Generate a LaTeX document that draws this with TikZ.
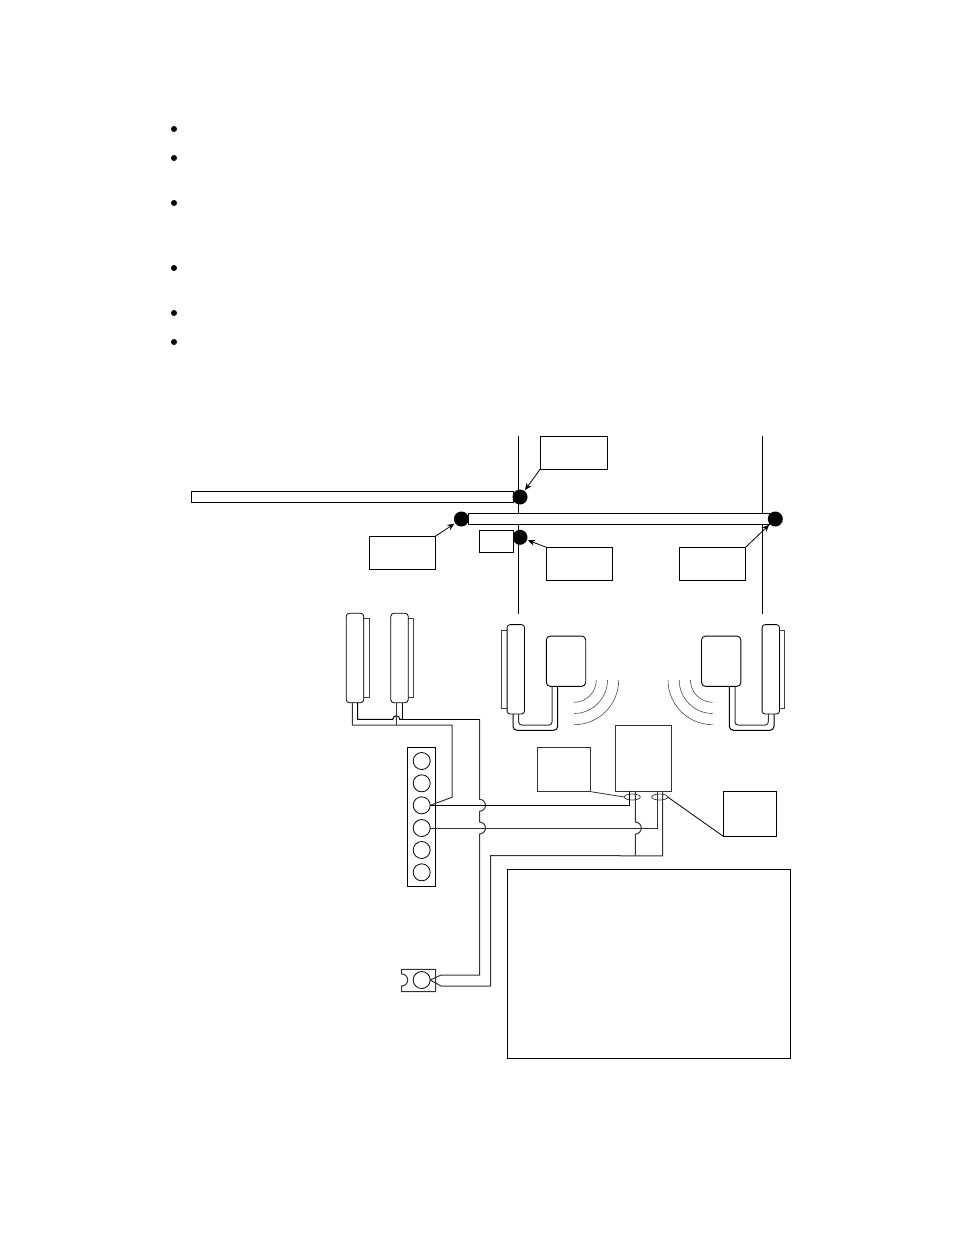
\documentclass[tikz,border=0pt]{standalone}
\usepackage{xcolor}
\usetikzlibrary{shapes.geometric}
\usetikzlibrary{arrows.meta}
\tikzset{
  box/.style={draw,fill=white,inner sep=0,outer sep=0,line width=.9pt},
  gbox/.style={box,draw=black!80},
  dot/.style={circle,fill=black,inner sep=0,outer sep=0,minimum size=15pt},
  bulletdot/.style={circle,fill=black,inner sep=0,minimum size=6pt},
  term/.style={circle,draw,fill=white,inner sep=0,outer sep=0,minimum size=17pt,line width=.8pt},
  handset/.style={draw,fill=white,rounded corners=3pt,inner sep=0,outer sep=0,minimum width=17.4pt,minimum height=89.4pt,line width=.8pt},
  backing/.style={draw=black!75,fill=white,inner sep=0,outer sep=0,minimum width=5.6pt,minimum height=78.6pt,line width=1pt},
  base/.style={draw,fill=white,rounded corners=4pt,inner sep=0,outer sep=0,minimum width=39.4pt,minimum height=50.3pt,line width=.9pt},
  clip ring/.style={draw=black!80,ellipse,inner sep=0,outer sep=0,line width=.7pt,minimum width=16pt,minimum height=6pt},
  wire/.style={line width=1pt},
  gwire/.style={line width=1pt,draw=black!80},
  pointer/.style={-{Stealth[length=7pt,width=6pt]},line width=.8pt,shorten >=1pt},
  wave/.style={line width=.6pt,draw=black!70}
}
\begin{document}
\begin{tikzpicture}[x=1pt,y=-1pt]
  \useasboundingbox (0,0) rectangle (954,1235);
  \fill[white] (0,0) rectangle (954,1235);

  \foreach \y [count=\i] in {129,158,203,268,313,342}
    \node (bul\i) [bulletdot] at (174,\y) {};

  % the two posts and the beams
  \coordinate (pal) at (518.4,435.7);
  \coordinate (pah) at (518.4,614);
  \coordinate (pbl) at (762.8,435.7);
  \coordinate (pbh) at (762.8,614);
  \draw[wire,line width=.8pt] (pal) -- (pah);
  \draw[wire,line width=.8pt] (pbl) -- (pbh);
  \node (beamw) [box,minimum width=322pt,minimum height=11.4pt] at (352,497) {};
  \node (beame) [box,minimum width=301pt,minimum height=11.4pt] at (618.5,519) {};
  \node (dotn) [dot] at (520,497) {};
  \node (dotw) [dot] at (461.4,519) {};
  \node (dots) [dot] at (520,537.3) {};
  \node (dote) [dot] at (775.3,519) {};

  \node (lbln) [box,minimum width=67.5pt,minimum height=33pt] at (573.8,452.8) {};
  \node (lblw) [box,minimum width=66.3pt,minimum height=33pt] at (402.2,552.8) {};
  \node (lbls) [box,minimum width=34.6pt,minimum height=22pt] at (496.3,541.3) {};
  \node (lblm) [box,minimum width=66.1pt,minimum height=33pt] at (579.5,563.8) {};
  \node (lble) [box,minimum width=66.1pt,minimum height=33pt] at (712.5,563.8) {};
  \draw[pointer] (lbln.south west) -- (dotn);
  \draw[pointer] (lblw.north east) -- (dotw);
  \draw[pointer] (lblm.north west) -- (dots);
  \draw[pointer] (lble.north east) -- (dote);

  % telephones
  \node (bka) [backing] at (366.5,658.2) {};
  \node (bkb) [backing] at (410.7,658.2) {};
  \node (bkc) [backing] at (504.5,669.3) {};
  \node (bkd) [backing] at (782,669.3) {};
  \node (hsa) [handset] at (355,658) {};
  \node (hsb) [handset] at (399.5,658) {};
  \node (hsc) [handset] at (515.8,669.3) {};
  \node (hsd) [handset] at (770.8,669.3) {};
  \node (bsc) [base] at (566,661.2) {};
  \node (bsd) [base] at (721.2,661.2) {};

  \path (hsa.south) +(-2.7,0) coordinate (hsal);
  \path (hsa.south) +(2.5,0) coordinate (hsar);
  \path (hsb.south) +(-3.2,0) coordinate (hsbl);
  \path (hsb.south) +(2.5,0) coordinate (hsbr);
  \path (hsc.south) +(-2.8,0) coordinate (hscl);
  \path (hsc.south) +(2.9,0) coordinate (hscr);
  \path (bsc.south) +(-14,0) coordinate (bscl);
  \path (bsc.south) +(-8.3,0) coordinate (bscr);
  \path (hsd.south) +(-2.5,0) coordinate (hsdl);
  \path (hsd.south) +(3.2,0) coordinate (hsdr);
  \path (bsd.south) +(8.1,0) coordinate (bsdl);
  \path (bsd.south) +(13.8,0) coordinate (bsdr);

  \draw[wire,rounded corners=4pt] (hscl) -- ++(0,16.3) -| (bscr);
  \draw[gwire,rounded corners=3pt] (hscr) -- ++(0,11) -| (bscl);
  \draw[wire,rounded corners=4pt] (hsdr) -- ++(0,16.3) -| (bsdl);
  \draw[gwire,rounded corners=3pt] (hsdl) -- ++(0,11) -| (bsdr);

  \foreach \r in {22.3,33.5,44.7} {
    \draw[wave] (574,680+\r) arc [start angle=-90,end angle=0,radius=\r pt];
    \draw[wave] (712.7,680+\r) arc [start angle=-90,end angle=-180,radius=\r pt];
  }

  % terminal block and boxes
  \node (block) [box,minimum width=27.6pt,minimum height=138.7pt] at (421.5,816.6) {};
  \foreach \y [count=\i] in {761,783.3,805.3,828,850,872.3}
    \node (t\i) [term] at (421.7,\y) {};
  \node (amp) [gbox,minimum width=56pt,minimum height=66.3pt] at (643.7,758.2) {};
  \node (lbla) [gbox,minimum width=53pt,minimum height=44.7pt] at (564.2,769.3) {};
  \node (lblb) [box,minimum width=53.4pt,minimum height=45pt] at (750,813.8) {};
  \node (note) [box,minimum width=283.2pt,minimum height=189pt] at (648.9,963.8) {};

  \path (amp.south) +(-14,0) coordinate (ampa);
  \path (amp.south) +(-8.4,0) coordinate (ampb);
  \path (amp.south) +(13.6,0) coordinate (ampc);
  \path (amp.south) +(19,0) coordinate (ampd);
  \node (clpa) [clip ring] at (632.3,797) {};
  \node (clpb) [clip ring] at (659.7,797) {};
  \draw[gwire,line width=.8pt] (lbla.south east) -- (clpa.west);
  \draw[wire,line width=.8pt] (lblb.south west) -- (clpb.east);

  % plug
  \draw[gwire] (401.7,986) arc [start angle=-90,end angle=90,radius=6pt]
    -- (401.7,969.3) -- (435.7,969.3) -- (435.7,991.7) -- (401.7,991.7) -- cycle;
  \node (jack) [term] at (421.7,980) {};

  % wiring
  \draw[wire] (hsar) -- ++(0,16.6) -- (392.8,719.3)
    arc [start angle=180,end angle=0,radius=3.5pt] -- (402,719.3);
  \draw[wire] (hsbr) -- (402,719.3);
  \draw[wire] (402,719.3) -- (479.5,719.3);
  \draw[gwire] (479.5,719.3) -- (479.5,799.3)
    arc [start angle=90,end angle=-90,radius=6pt] -- (479.5,822)
    arc [start angle=90,end angle=-90,radius=6pt] -- (479.5,975)
    -- (441,975) -- (jack.east);
  \draw[gwire] (hsal) -- ++(0,22.3) -- (452,725) -- (452,797.3) -- (t3.east);
  \draw[gwire] (hsbl) -- ++(0,22.3);
  \draw[wire] (t3.east) -| (ampa);
  \draw[gwire] (t4.east) -| (ampc);
  \draw[gwire] (ampb) -- ++(0,30.7)
    arc [start angle=90,end angle=-90,radius=6pt] -- (635.3,855.7);
  \draw[gwire] (ampd) -- ++(0,64.4) -- (490.7,855.7) -- (490.7,986) -- (441,986) -- (jack.east);
\end{tikzpicture}
\end{document}
